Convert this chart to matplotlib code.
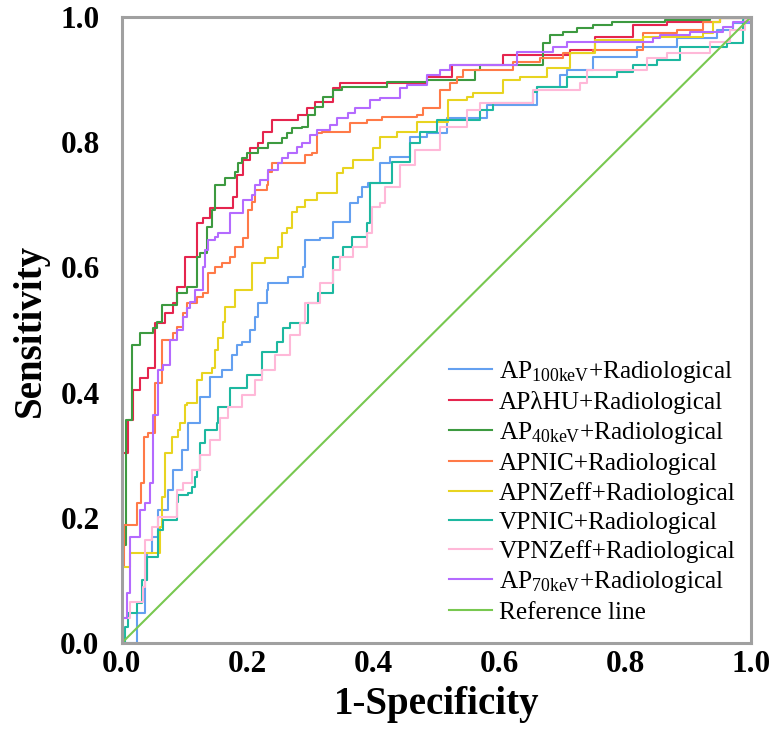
import matplotlib
matplotlib.use("Agg")
import matplotlib.pyplot as plt

plt.rcParams['font.family'] = ['Liberation Serif', 'DejaVu Serif']
plt.rcParams['mathtext.fontset'] = 'custom'
plt.rcParams['mathtext.rm'] = 'Liberation Serif'
plt.rcParams['mathtext.it'] = 'Liberation Serif:italic'
plt.rcParams['mathtext.bf'] = 'Liberation Serif:bold'

# ROC corner points (1-specificity, sensitivity)
fpr_100kev = [0, 0.024, 0.037, 0.040, 0.048, 0.057, 0.073, 0.081, 0.095, 0.105, 0.124, 0.140, 0.159, 0.175,
              0.183, 0.191, 0.204, 0.211, 0.216, 0.231, 0.232, 0.264, 0.288, 0.291, 0.315, 0.335, 0.362, 0.375,
              0.382, 0.391, 0.410, 0.426, 0.458, 0.485, 0.517, 0.580, 0.660, 0.696, 0.707, 0.749, 0.819, 0.882,
              0.946, 0.971, 1.0]
tpr_100kev = [0, 0.048, 0.101, 0.144, 0.169, 0.212, 0.244, 0.276, 0.308, 0.351, 0.393, 0.425, 0.436, 0.460,
              0.476, 0.481, 0.500, 0.521, 0.543, 0.564, 0.575, 0.585, 0.601, 0.644, 0.647, 0.673, 0.703, 0.712,
              0.728, 0.735, 0.767, 0.776, 0.808, 0.815, 0.839, 0.859, 0.888, 0.907, 0.915, 0.936, 0.952, 0.966,
              0.979, 0.990, 1.0]

fpr_lhu = [0, 0, 0.010, 0.017, 0.029, 0.041, 0.052, 0.068, 0.081, 0.087, 0.100, 0.119, 0.129, 0.140, 0.176,
           0.183, 0.192, 0.204, 0.216, 0.224, 0.238, 0.280, 0.294, 0.307, 0.335, 0.347, 0.485, 0.525, 0.606,
           0.712, 0.752, 0.812, 0.866, 0.951, 1.0]
tpr_lhu = [0, 0.304, 0.356, 0.404, 0.423, 0.439, 0.511, 0.527, 0.543, 0.569, 0.617, 0.671, 0.679, 0.695, 0.712,
           0.748, 0.772, 0.791, 0.799, 0.816, 0.835, 0.843, 0.855, 0.864, 0.887, 0.895, 0.904, 0.923, 0.939,
           0.947, 0.968, 0.987, 0.992, 0.998, 1.0]

fpr_40kev = [0, 0, 0.006, 0.016, 0.029, 0.049, 0.056, 0.064, 0.087, 0.103, 0.119, 0.124, 0.135, 0.143, 0.148,
             0.164, 0.180, 0.184, 0.191, 0.199, 0.216, 0.232, 0.254, 0.262, 0.270, 0.286, 0.296, 0.307, 0.320,
             0.335, 0.350, 0.421, 0.485, 0.561, 0.569, 0.669, 0.680, 0.701, 0.723, 0.749, 0.779, 0.863, 0.935, 1.0]
tpr_40kev = [0, 0.157, 0.356, 0.476, 0.495, 0.503, 0.513, 0.540, 0.559, 0.569, 0.617, 0.623, 0.665, 0.692, 0.732,
             0.743, 0.752, 0.767, 0.775, 0.783, 0.791, 0.799, 0.807, 0.815, 0.823, 0.824, 0.843, 0.856, 0.872,
             0.883, 0.888, 0.896, 0.899, 0.915, 0.923, 0.958, 0.971, 0.976, 0.982, 0.987, 0.992, 0.995, 0.998, 1.0]

fpr_apnic = [0, 0, 0.003, 0.024, 0.030, 0.035, 0.041, 0.052, 0.064, 0.081, 0.087, 0.097, 0.103, 0.119, 0.129,
             0.137, 0.148, 0.159, 0.172, 0.180, 0.192, 0.200, 0.207, 0.211, 0.231, 0.232, 0.238, 0.291, 0.302,
             0.310, 0.318, 0.362, 0.390, 0.413, 0.469, 0.479, 0.506, 0.521, 0.533, 0.542, 0.622, 0.665, 0.701,
             0.749, 0.828, 0.882, 0.924, 0.951, 1.0]
tpr_apnic = [0, 0.121, 0.188, 0.224, 0.256, 0.329, 0.335, 0.415, 0.484, 0.495, 0.505, 0.527, 0.543, 0.553, 0.559,
             0.591, 0.601, 0.607, 0.617, 0.633, 0.647, 0.692, 0.704, 0.724, 0.732, 0.752, 0.767, 0.780, 0.783,
             0.815, 0.816, 0.831, 0.835, 0.840, 0.843, 0.855, 0.883, 0.895, 0.904, 0.915, 0.928, 0.935, 0.942,
             0.947, 0.974, 0.979, 0.992, 0.998, 1.0]

fpr_apnzeff = [0, 0, 0.013, 0.060, 0.064, 0.068, 0.079, 0.089, 0.092, 0.100, 0.103, 0.119, 0.127, 0.143, 0.148,
               0.153, 0.161, 0.164, 0.180, 0.207, 0.227, 0.248, 0.254, 0.262, 0.270, 0.278, 0.291, 0.310, 0.342,
               0.351, 0.367, 0.399, 0.410, 0.437, 0.469, 0.518, 0.548, 0.558, 0.606, 0.633, 0.676, 0.712, 0.752,
               0.828, 0.924, 0.940, 0.951, 1.0]
tpr_apnzeff = [0, 0.121, 0.144, 0.185, 0.233, 0.304, 0.329, 0.340, 0.351, 0.380, 0.383, 0.420, 0.431, 0.439, 0.468,
               0.487, 0.513, 0.537, 0.564, 0.607, 0.615, 0.633, 0.655, 0.663, 0.688, 0.696, 0.708, 0.719, 0.751,
               0.759, 0.772, 0.791, 0.808, 0.816, 0.832, 0.867, 0.872, 0.879, 0.899, 0.904, 0.919, 0.942, 0.963,
               0.968, 0.974, 0.992, 0.998, 1.0]

fpr_vpnic = [0, 0.005, 0.010, 0.024, 0.032, 0.040, 0.057, 0.065, 0.087, 0.089, 0.105, 0.111, 0.116, 0.119, 0.124,
             0.132, 0.151, 0.153, 0.172, 0.199, 0.223, 0.246, 0.256, 0.267, 0.296, 0.312, 0.335, 0.351, 0.366,
             0.390, 0.394, 0.429, 0.458, 0.474, 0.501, 0.569, 0.590, 0.653, 0.660, 0.707, 0.787, 0.812, 0.851,
             0.887, 0.962, 0.987, 1.0]
tpr_vpnic = [0, 0.026, 0.048, 0.064, 0.101, 0.137, 0.181, 0.196, 0.225, 0.236, 0.240, 0.249, 0.265, 0.276, 0.319,
             0.340, 0.351, 0.377, 0.407, 0.428, 0.465, 0.481, 0.503, 0.511, 0.543, 0.559, 0.617, 0.633, 0.649,
             0.671, 0.735, 0.768, 0.799, 0.816, 0.835, 0.851, 0.863, 0.880, 0.888, 0.904, 0.912, 0.923, 0.931,
             0.952, 0.958, 0.995, 1.0]

fpr_vpnzeff = [0, 0.002, 0.013, 0.033, 0.037, 0.048, 0.057, 0.087, 0.097, 0.111, 0.124, 0.140, 0.156, 0.169,
               0.191, 0.211, 0.223, 0.243, 0.267, 0.283, 0.291, 0.315, 0.335, 0.347, 0.367, 0.390, 0.397, 0.410,
               0.418, 0.442, 0.466, 0.506, 0.548, 0.569, 0.653, 0.728, 0.739, 0.835, 0.866, 0.935, 0.967, 0.990, 1.0]
tpr_vpnzeff = [0, 0.040, 0.065, 0.089, 0.165, 0.185, 0.201, 0.244, 0.256, 0.276, 0.300, 0.324, 0.359, 0.377,
               0.396, 0.420, 0.436, 0.460, 0.492, 0.511, 0.543, 0.575, 0.596, 0.617, 0.633, 0.655, 0.696, 0.703,
               0.728, 0.764, 0.788, 0.824, 0.851, 0.863, 0.883, 0.895, 0.915, 0.935, 0.942, 0.960, 0.979, 0.995, 1.0]

fpr_70kev = [0, 0, 0.008, 0.013, 0.029, 0.037, 0.045, 0.049, 0.057, 0.065, 0.076, 0.087, 0.097, 0.103, 0.108,
             0.116, 0.129, 0.132, 0.137, 0.148, 0.153, 0.172, 0.192, 0.207, 0.211, 0.219, 0.232, 0.248, 0.254,
             0.264, 0.278, 0.286, 0.299, 0.310, 0.331, 0.342, 0.359, 0.370, 0.394, 0.410, 0.442, 0.453, 0.485,
             0.506, 0.521, 0.628, 0.685, 0.707, 0.844, 0.855, 0.903, 0.955, 0.971, 1.0]
tpr_70kev = [0, 0.040, 0.080, 0.169, 0.212, 0.224, 0.256, 0.364, 0.436, 0.444, 0.484, 0.500, 0.521, 0.535, 0.545,
             0.564, 0.601, 0.628, 0.644, 0.649, 0.655, 0.687, 0.708, 0.716, 0.732, 0.740, 0.756, 0.767, 0.775,
             0.783, 0.792, 0.799, 0.812, 0.819, 0.827, 0.839, 0.847, 0.855, 0.867, 0.871, 0.887, 0.891, 0.907,
             0.915, 0.923, 0.944, 0.952, 0.960, 0.966, 0.971, 0.976, 0.984, 0.992, 1.0]

ref_x = [0, 1]
ref_y = [0, 1]

curves = [
    (fpr_100kev, tpr_100kev, "AP$_{\\mathrm{100keV}}$+Radiological", "#64A0F0"),
    (fpr_lhu, tpr_lhu, "APλHU+Radiological", "#E5254E"),
    (fpr_40kev, tpr_40kev, "AP$_{\\mathrm{40keV}}$+Radiological", "#3D9A40"),
    (fpr_apnic, tpr_apnic, "APNIC+Radiological", "#FF7A48"),
    (fpr_apnzeff, tpr_apnzeff, "APNZeff+Radiological", "#E8D420"),
    (fpr_vpnic, tpr_vpnic, "VPNIC+Radiological", "#1DB8A0"),
    (fpr_vpnzeff, tpr_vpnzeff, "VPNZeff+Radiological", "#FFB8D8"),
    (fpr_70kev, tpr_70kev, "AP$_{\\mathrm{70keV}}$+Radiological", "#B46AFF"),
]

fig = plt.figure(figsize=(7.71, 7.33), dpi=100)
ax = fig.add_axes([0.158, 0.1228, 0.816, 0.854])

for fx, ty, lab, col in curves:
    ax.plot(fx, ty, drawstyle="steps-post", color=col, lw=1.5, label=lab)
ax.plot(ref_x, ref_y, color="#78C850", lw=1.5, label="Reference line")

ax.set_xlim(0, 1)
ax.set_ylim(0, 1)
ticks = [0.0, 0.2, 0.4, 0.6, 0.8, 1.0]
ax.set_xticks(ticks)
ax.set_yticks(ticks)
ax.set_xticklabels([f"{t:.1f}" for t in ticks], fontsize=22.5, fontweight="bold")
ax.set_yticklabels([f"{t:.1f}" for t in ticks], fontsize=22.5, fontweight="bold")
ax.tick_params(axis="x", length=0, pad=5)
ax.tick_params(axis="y", length=0, pad=16)
ax.set_xlabel("1-Specificity", fontsize=28, fontweight="bold", labelpad=5)
ax.set_ylabel("Sensitivity", fontsize=28, fontweight="bold", labelpad=8)

for sp in ax.spines.values():
    sp.set_color("#A0A0A0")
    sp.set_linewidth(2.2)

ax.legend(loc="lower right", bbox_to_anchor=(0.976, 0.03), frameon=False, fontsize=18.2,
          handlelength=1.7, handletextpad=0.3, labelspacing=0.25, borderpad=0, borderaxespad=0)

fig.savefig("out.png", dpi=100)
